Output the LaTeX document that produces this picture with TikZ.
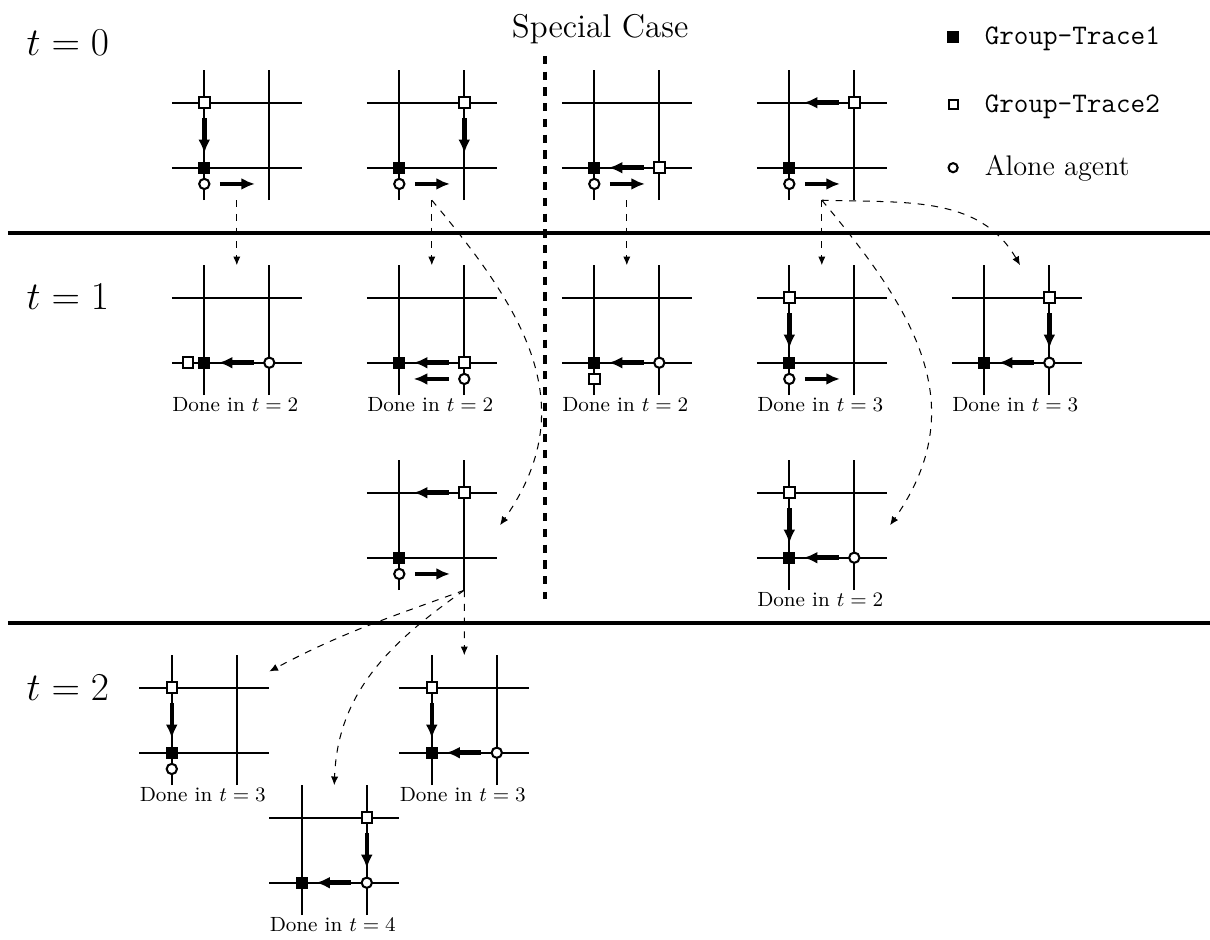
\documentclass[tikz,border=0pt]{standalone}
\usepackage{amsmath}
\usetikzlibrary{calc,arrows.meta}
\newcommand{\crossgrid}{%
  \draw[gridline] (-0.5,0) -- (1.5,0) (-0.5,1) -- (1.5,1)
    (0,-0.5) -- (0,1.5) (1,-0.5) -- (1,1.5);}

\begin{document}
\begin{tikzpicture}[
    >=Latex,
    gridline/.style={line width=0.75pt},
    tone/.style={rectangle, draw, fill=black, line width=0.6pt, minimum size=4.8pt, inner sep=0pt},
    ttwo/.style={rectangle, draw, fill=white, line width=0.9pt, minimum size=4.6pt, inner sep=0pt},
    alone/.style={circle, draw, fill=white, line width=0.9pt, minimum size=4.5pt, inner sep=0pt},
    move/.style={line width=2pt, -{Latex[length=6pt,width=5.2pt]}},
    hop/.style={dashed, line width=0.45pt, -{Latex[length=3.8pt,width=3.2pt]}},
    sepline/.style={line width=1.8pt},
    donelabel/.style={anchor=base west, inner sep=0pt, font=\small},
    steplabel/.style={font=\LARGE},
    keylabel/.style={anchor=base west, inner sep=0pt, font=\fontsize{12.4}{15}\selectfont},
  ]
  \def\lead{0.24}
  \def\run{0.54}
  \def\below{0.25}

  \useasboundingbox (-3.143,-11.866) rectangle (15.472,2.58);

  % Time steps and separators
  \node[steplabel] (tzero) at (-2.1,1.92) {$t=0$};
  \node[steplabel] (tone) at (-2.1,-1.99) {$t=1$};
  \node[steplabel] (ttwo) at (-2.1,-8.0) {$t=2$};
  \draw[sepline] (-3.02,-1) -- (15.472,-1);
  \draw[sepline] (-3.02,-7) -- (15.472,-7);

  % Special case divider
  \node[font=\Large, anchor=base] (special) at (6.09,2.01) {Special Case};
  \draw[line width=1.8pt, dash pattern=on 3.6pt off 3.3pt] (5.24,1.72) -- (5.24,-6.63);

  % Legend
  \node[tone] (keyone) at (11.52,2.01) {};
  \node[keylabel, font=\fontsize{12.4}{15}\selectfont\ttfamily] (keyonetext) at (12.0,1.89) {Group-Trace1};
  \node[ttwo, minimum size=4pt] (keytwo) at (11.52,0.97) {};
  \node[keylabel, font=\fontsize{12.4}{15}\selectfont\ttfamily] (keytwotext) at (12.0,0.85) {Group-Trace2};
  \node[alone, minimum size=4pt] (keyalone) at (11.52,0) {};
  \node[keylabel] (keyalonetext) at (12.0,-0.12) {Alone agent};

  % ---------- t = 0 ----------
  \begin{scope}[shift={(0,0)}]
    \crossgrid
    \node[ttwo] (b01) at (0,1) {};
    \node[tone] (a01) at (0,0) {};
    \node[alone] (c01) at (0,-\below) {};
    \draw[move] (b01) ++(0,-\lead) -- ++(0,-\run);
    \draw[move] (c01) ++(\lead,0) -- ++(\run,0);
    \coordinate (s01) at (0.5,-0.5);
  \end{scope}
  \begin{scope}[shift={(3,0)}]
    \crossgrid
    \node[ttwo] (b02) at (1,1) {};
    \node[tone] (a02) at (0,0) {};
    \node[alone] (c02) at (0,-\below) {};
    \draw[move] (b02) ++(0,-\lead) -- ++(0,-\run);
    \draw[move] (c02) ++(\lead,0) -- ++(\run,0);
    \coordinate (s02) at (0.5,-0.5);
  \end{scope}
  \begin{scope}[shift={(6,0)}]
    \crossgrid
    \node[tone] (a03) at (0,0) {};
    \node[ttwo] (b03) at (1,0) {};
    \node[alone] (c03) at (0,-\below) {};
    \draw[move] (b03) ++(-\lead,0) -- ++(-\run,0);
    \draw[move] (c03) ++(\lead,0) -- ++(\run,0);
    \coordinate (s03) at (0.5,-0.5);
  \end{scope}
  \begin{scope}[shift={(9,0)}]
    \crossgrid
    \node[tone] (a04) at (0,0) {};
    \node[ttwo] (b04) at (1,1) {};
    \node[alone] (c04) at (0,-\below) {};
    \draw[move] (b04) ++(-\lead,0) -- ++(-\run,0);
    \draw[move] (c04) ++(\lead,0) -- ++(\run,0);
    \coordinate (s04) at (0.5,-0.5);
  \end{scope}

  % ---------- t = 1 ----------
  \begin{scope}[shift={(0,-3)}]
    \crossgrid
    \node[ttwo] (b11) at (-\below,0) {};
    \node[tone] (a11) at (0,0) {};
    \node[alone] (c11) at (1,0) {};
    \draw[move] (c11) ++(-\lead,0) -- ++(-\run,0);
    \node[donelabel] (d11) at (-0.5,-0.75) {Done in $t=2$};
    \coordinate (e11) at (0.5,1.5);
  \end{scope}
  \begin{scope}[shift={(3,-3)}]
    \crossgrid
    \node[tone] (a12) at (0,0) {};
    \node[ttwo] (b12) at (1,0) {};
    \node[alone] (c12) at (1,-\below) {};
    \draw[move] (b12) ++(-\lead,0) -- ++(-\run,0);
    \draw[move] (c12) ++(-\lead,0) -- ++(-\run,0);
    \node[donelabel] (d12) at (-0.5,-0.75) {Done in $t=2$};
    \coordinate (e12) at (0.5,1.5);
  \end{scope}
  \begin{scope}[shift={(6,-3)}]
    \crossgrid
    \node[tone] (a13) at (0,0) {};
    \node[ttwo] (b13) at (0,-\below) {};
    \node[alone] (c13) at (1,0) {};
    \draw[move] (c13) ++(-\lead,0) -- ++(-\run,0);
    \node[donelabel] (d13) at (-0.5,-0.75) {Done in $t=2$};
    \coordinate (e13) at (0.5,1.5);
  \end{scope}
  \begin{scope}[shift={(9,-3)}]
    \crossgrid
    \node[ttwo] (b14) at (0,1) {};
    \node[tone] (a14) at (0,0) {};
    \node[alone] (c14) at (0,-\below) {};
    \draw[move] (b14) ++(0,-\lead) -- ++(0,-\run);
    \draw[move] (c14) ++(\lead,0) -- ++(\run,0);
    \node[donelabel] (d14) at (-0.5,-0.75) {Done in $t=3$};
    \coordinate (e14) at (0.5,1.5);
  \end{scope}
  \begin{scope}[shift={(12,-3)}]
    \crossgrid
    \node[ttwo] (b15) at (1,1) {};
    \node[tone] (a15) at (0,0) {};
    \node[alone] (c15) at (1,0) {};
    \draw[move] (b15) ++(0,-\lead) -- ++(0,-\run);
    \draw[move] (c15) ++(-\lead,0) -- ++(-\run,0);
    \node[donelabel] (d15) at (-0.5,-0.75) {Done in $t=3$};
    \coordinate (e15) at (0.55,1.5);
  \end{scope}
  \begin{scope}[shift={(3,-6)}]
    \crossgrid
    \node[ttwo] (b16) at (1,1) {};
    \node[tone] (a16) at (0,0) {};
    \node[alone] (c16) at (0,-\below) {};
    \draw[move] (b16) ++(-\lead,0) -- ++(-\run,0);
    \draw[move] (c16) ++(\lead,0) -- ++(\run,0);
    \coordinate (e16) at (1.55,0.5);
    \coordinate (s16) at (1,-0.5);
  \end{scope}
  \begin{scope}[shift={(9,-6)}]
    \crossgrid
    \node[ttwo] (b17) at (0,1) {};
    \node[tone] (a17) at (0,0) {};
    \node[alone] (c17) at (1,0) {};
    \draw[move] (b17) ++(0,-\lead) -- ++(0,-\run);
    \draw[move] (c17) ++(-\lead,0) -- ++(-\run,0);
    \node[donelabel] (d17) at (-0.5,-0.75) {Done in $t=2$};
    \coordinate (e17) at (1.55,0.5);
  \end{scope}

  % ---------- t = 2 ----------
  \begin{scope}[shift={(-0.5,-9)}]
    \crossgrid
    \node[ttwo] (b21) at (0,1) {};
    \node[tone] (a21) at (0,0) {};
    \node[alone] (c21) at (0,-\below) {};
    \draw[move] (b21) ++(0,-\lead) -- ++(0,-\run);
    \node[donelabel] (d21) at (-0.5,-0.75) {Done in $t=3$};
    \coordinate (e21) at (1.5,1.25);
  \end{scope}
  \begin{scope}[shift={(3.5,-9)}]
    \crossgrid
    \node[ttwo] (b22) at (0,1) {};
    \node[tone] (a22) at (0,0) {};
    \node[alone] (c22) at (1,0) {};
    \draw[move] (b22) ++(0,-\lead) -- ++(0,-\run);
    \draw[move] (c22) ++(-\lead,0) -- ++(-\run,0);
    \node[donelabel] (d22) at (-0.5,-0.75) {Done in $t=3$};
    \coordinate (e22) at (0.5,1.5);
  \end{scope}
  \begin{scope}[shift={(1.5,-11)}]
    \crossgrid
    \node[ttwo] (b23) at (1,1) {};
    \node[tone] (a23) at (0,0) {};
    \node[alone] (c23) at (1,0) {};
    \draw[move] (b23) ++(0,-\lead) -- ++(0,-\run);
    \draw[move] (c23) ++(-\lead,0) -- ++(-\run,0);
    \node[donelabel] (d23) at (-0.5,-0.75) {Done in $t=4$};
    \coordinate (e23) at (0.5,1.5);
  \end{scope}

  % Transitions between steps
  \draw[hop] (s01) -- (e11);
  \draw[hop] (s02) -- (e12);
  \draw[hop] (s02) to[out=-50,in=55,looseness=1.12] (e16);
  \draw[hop] (s03) -- (e13);
  \draw[hop] (s04) -- (e14);
  \draw[hop] (s04) to[out=-50,in=55,looseness=1.12] (e17);
  \draw[hop] (s04) to[out=-2,in=120] (e15);
  \draw[hop] (s16) -- (e22);
  \draw[hop] (s16) to[out=200,in=28] (e21);
  \draw[hop] (s16) to[out=215,in=88] (e23);
\end{tikzpicture}
\end{document}
